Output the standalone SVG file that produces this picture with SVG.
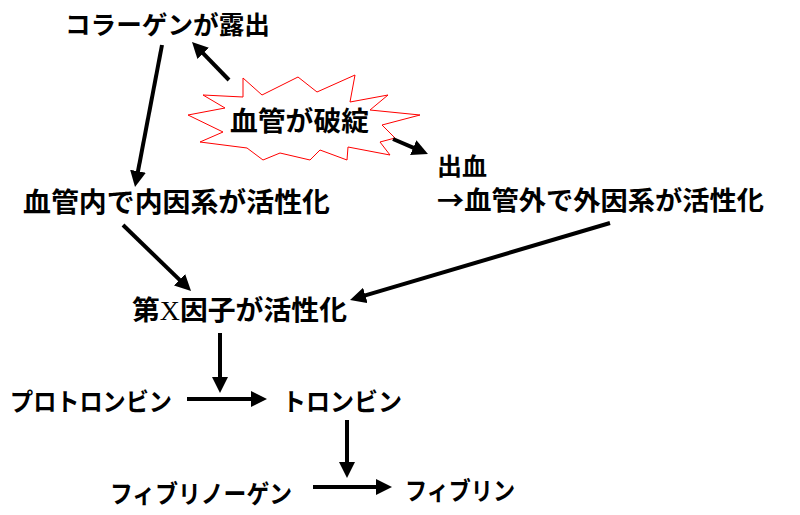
<svg xmlns="http://www.w3.org/2000/svg" width="800" height="515" viewBox="0 0 800 515">
<style>
.t{font-family:"Noto Sans CJK JP","Noto Sans CJK SC",sans-serif;font-weight:bold;fill:#000}
.c line{stroke:#000;stroke-width:4;marker-end:url(#ah)}
.x{font-family:"Liberation Serif",serif;font-weight:normal}
</style>
<defs>
<marker id="ah" markerUnits="userSpaceOnUse" markerWidth="18" markerHeight="16" refX="8" refY="8" orient="auto">
<path d="M0,0 L16,8 L0,16 z" fill="#000"/>
</marker>
</defs>
<rect width="800" height="515" fill="#fff"/>
<g id="star">
<polygon points="243,78 262,95 298,77 317,92 355,75 350,102 388,95 370,110 420,115 382,125 395,138 380,142 390,155 348,147 347,160 320,150 310,160 280,153 263,160 247,148 200,142 223,132 188,115 225,108 203,95 243,97" fill="#fff" stroke="#f00" stroke-width="1"/>
<text class="t" x="230" y="131" font-size="27" textLength="139" lengthAdjust="spacingAndGlyphs">血管が破綻</text>
</g>
<g id="collagen"><text class="t" x="65" y="34" font-size="25" textLength="205" lengthAdjust="spacingAndGlyphs">コラーゲンが露出</text></g>
<g id="intrinsic"><text class="t" x="23" y="212" font-size="27" textLength="307" lengthAdjust="spacingAndGlyphs">血管内で内因系が活性化</text></g>
<g id="extrinsic">
<text class="t" x="437" y="175" font-size="24" textLength="50" lengthAdjust="spacingAndGlyphs">出血</text>
<text class="t" x="437" y="210" font-size="26" textLength="327" lengthAdjust="spacingAndGlyphs">→血管外で外因系が活性化</text>
</g>
<g id="factorX"><text class="t" x="132" y="320" font-size="27" textLength="215" lengthAdjust="spacingAndGlyphs">第<tspan class="x">X</tspan>因子が活性化</text></g>
<g id="prothrombin"><text class="t" x="10" y="411" font-size="25" textLength="162" lengthAdjust="spacingAndGlyphs">プロトロンビン</text></g>
<g id="thrombin"><text class="t" x="282" y="411" font-size="25" textLength="120" lengthAdjust="spacingAndGlyphs">トロンビン</text></g>
<g id="fibrinogen"><text class="t" x="110" y="503" font-size="25" textLength="182" lengthAdjust="spacingAndGlyphs">フィブリノーゲン</text></g>
<g id="fibrin"><text class="t" x="405" y="500" font-size="25" textLength="110" lengthAdjust="spacingAndGlyphs">フィブリン</text></g>
<g id="connectors" class="c">
<line x1="162" y1="45" x2="136.5" y2="179.1"/>
<line x1="229" y1="80" x2="197.6" y2="47.7"/>
<line x1="123" y1="225" x2="185.3" y2="285.4"/>
<line x1="610" y1="223" x2="357.7" y2="297.7"/>
<line x1="393" y1="139" x2="420.6" y2="150.8"/>
<line x1="220" y1="333" x2="220" y2="385"/>
<line x1="187" y1="399" x2="259" y2="399"/>
<line x1="347" y1="420" x2="347" y2="470"/>
<line x1="313" y1="487" x2="384" y2="487"/>
</g>
</svg>
